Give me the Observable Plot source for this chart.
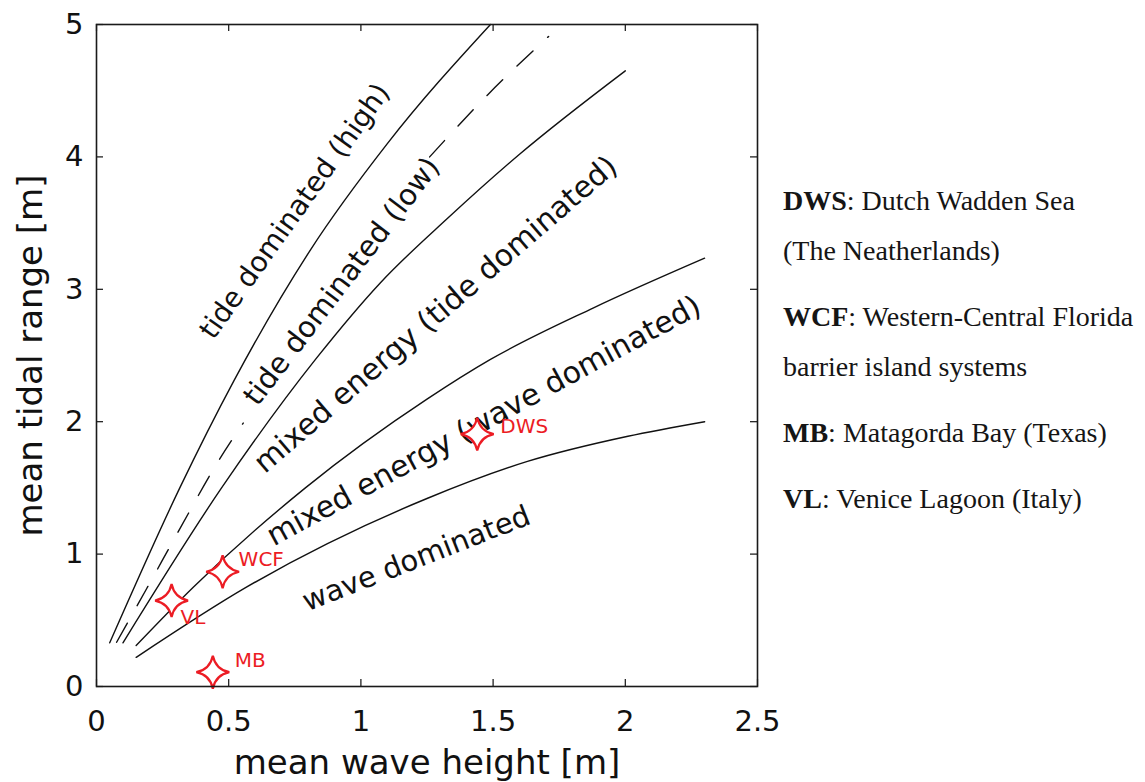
<!DOCTYPE html>
<html>
<head>
<meta charset="utf-8">
<script src="https://cdn.jsdelivr.net/npm/d3@7"></script>
<script src="https://cdn.jsdelivr.net/npm/@observablehq/plot@0.6"></script>
<style>
  html, body { margin: 0; padding: 0; background: #fff; }
  #wrap { position: relative; width: 1145px; height: 782px; overflow: hidden; }
  #wrap svg { position: absolute; left: 0; top: 0; }
  #legend {
    position: absolute; left: 783px; top: 176px;
    font-family: "Liberation Serif", "Times New Roman", serif;
    font-size: 28px; line-height: 50px; color: #151515;
  }
  #legend p { margin: 0 0 16px 0; white-space: nowrap; }
</style>
</head>
<body>
<div id="wrap"><div id="legend"></div></div>
<script>
// Axis ticks
const xTicks = [0, 0.5, 1, 1.5, 2, 2.5];
const yTicks = [0, 1, 2, 3, 4, 5];

// Boundary curves: [mean wave height (m), mean tidal range (m)]
const boundaryTideHigh = [[0.05, 0.33], [0.315, 1.50], [0.52, 2.31], [0.81, 3.30], [1.10, 4.10], [1.49, 5.00]];
// dashed boundary, interrupted where the "tide dominated (low)" label sits
const boundaryTideLowBelow = [[0.076, 0.334], [0.19, 0.74], [0.315, 1.19], [0.454, 1.68], [0.555, 1.99]];
const boundaryTideLowAbove = [[1.26, 4.00], [1.48, 4.47], [1.71, 4.91]];
const boundaryMixedTide = [[0.10, 0.33], [0.473, 1.50], [0.832, 2.48], [1.074, 3.05], [1.33, 3.54], [1.60, 4.02], [2.00, 4.65]];
const boundaryMixedWave = [[0.15, 0.31], [0.366, 0.75], [0.79, 1.50], [1.25, 2.17], [1.49, 2.47], [1.88, 2.86], [2.30, 3.235]];
const boundaryWave = [[0.15, 0.22], [0.567, 0.75], [1.25, 1.42], [1.63, 1.70], [2.01, 1.89], [2.30, 2.00]];

// Study sites
const siteCodes = ["DWS", "WCF", "MB", "VL"];
const siteWaveHeight = [1.44, 0.477, 0.44, 0.284];
const siteTidalRange = [1.906, 0.867, 0.108, 0.649];

// Region names
const regionNames = ["tide dominated (high)", "tide dominated (low)", "mixed energy (tide dominated)", "mixed energy (wave dominated)", "wave dominated"];

// Site key
const legendCodes = ["DWS", "WCF", "MB", "VL"];
const legendNames = [["Dutch Wadden Sea", "(The Neatherlands)"], ["Western-Central Florida", "barrier island systems"], ["Matagorda Bay (Texas)"], ["Venice Lagoon (Italy)"]];

// ---- layout ----
const RED = "#ec1c24";
const INK = "#111";
const W = 1145, H = 782;
const M = {top: 24, right: 388, bottom: 96, left: 96};
const plotW = W - M.left - M.right;
const plotH = H - M.top - M.bottom;
const tickLen = 7;

const regionLabelSpots = [
  {x: 0.75, y: 3.59, angle: -54.5, size: 28},
  {x: 0.928, y: 3.06, angle: -52.7, size: 29},
  {x: 1.283, y: 2.81, angle: -40.7, size: 30},
  {x: 1.465, y: 2.005, angle: -28.6, size: 30},
  {x: 1.21, y: 0.965, angle: -21.4, size: 29}
];
const siteLabelOffsets = {DWS: [23, -8], WCF: [16, -12], MB: [22, -12], VL: [9, 17]};

// four-pointed star with concave sides
const sparkle = {
  draw(context, size) {
    const r = Math.sqrt(size / Math.PI);
    const c = r * 0.17;
    context.moveTo(0, -r);
    context.quadraticCurveTo(c, -c, r, 0);
    context.quadraticCurveTo(c, c, 0, r);
    context.quadraticCurveTo(-c, c, -r, 0);
    context.quadraticCurveTo(-c, -c, 0, -r);
    context.closePath();
  }
};

const sites = siteCodes.map((code, i) => ({code, x: siteWaveHeight[i], y: siteTidalRange[i]}));
const regions = regionNames.map((name, i) => ({name, ...regionLabelSpots[i]}));

const solid = {x: d => d[0], y: d => d[1], stroke: INK, strokeWidth: 1.4, curve: "monotone-x"};
const dashed = {...solid, strokeDasharray: "22,20"};
const fmt = d3.format("~g");

const chart = Plot.plot({
  width: W,
  height: H,
  marginTop: M.top,
  marginRight: M.right,
  marginBottom: M.bottom,
  marginLeft: M.left,
  style: {fontFamily: "'DejaVu Sans', sans-serif", fontSize: "28px", color: INK, background: "transparent"},
  x: {domain: [0, 2.5]},
  y: {domain: [0, 5]},
  marks: [
    // inward ticks on all four sides
    Plot.tickX(xTicks, {x: d => d, insetTop: plotH - tickLen, stroke: INK, strokeWidth: 1.2}),
    Plot.tickX(xTicks, {x: d => d, insetBottom: plotH - tickLen, stroke: INK, strokeWidth: 1.2}),
    Plot.tickY(yTicks, {y: d => d, insetRight: plotW - tickLen, stroke: INK, strokeWidth: 1.2}),
    Plot.tickY(yTicks, {y: d => d, insetLeft: plotW - tickLen, stroke: INK, strokeWidth: 1.2}),
    // tick labels
    Plot.axisX(xTicks, {anchor: "bottom", tickSize: 0, tickPadding: 24, fontSize: 29, label: null, fill: INK, tickFormat: fmt}),
    Plot.axisY(yTicks, {anchor: "left", tickSize: 0, tickPadding: 13, fontSize: 29, label: null, fill: INK, tickFormat: fmt}),
    // axis titles
    Plot.text(["mean wave height [m]"], {text: d => d, frameAnchor: "bottom", dy: 87, textAnchor: "middle", lineAnchor: "bottom", fontSize: 34, fill: INK}),
    Plot.text(["mean tidal range [m]"], {text: d => d, frameAnchor: "left", rotate: -90, dx: -55, textAnchor: "middle", lineAnchor: "bottom", fontSize: 34, fill: INK}),
    // boundaries
    Plot.line(boundaryTideHigh, solid),
    Plot.line(boundaryTideLowBelow, dashed),
    Plot.line(boundaryTideLowAbove, dashed),
    Plot.line(boundaryMixedTide, solid),
    Plot.line(boundaryMixedWave, solid),
    Plot.line(boundaryWave, solid),
    // region names
    ...regions.map(r => Plot.text([r], {x: "x", y: "y", text: "name", rotate: "angle", fontSize: r.size, fill: INK, textAnchor: "middle", lineAnchor: "middle"})),
    // sites
    Plot.dot(sites, {x: "x", y: "y", symbol: sparkle, r: 16.5, stroke: RED, strokeWidth: 2.2, fill: "white"}),
    ...sites.map(s => Plot.text([s], {
      x: "x", y: "y", text: "code",
      dx: siteLabelOffsets[s.code][0], dy: siteLabelOffsets[s.code][1],
      textAnchor: "start", lineAnchor: "middle", fontSize: 20, fill: RED
    })),
    Plot.frame({stroke: "#1a1a1a", strokeWidth: 1.6})
  ]
});

document.getElementById("wrap").prepend(chart);

// site key on the right
const items = d3.select("#legend").selectAll("p").data(legendCodes).join("p");
items.each(function (code, i) {
  const p = d3.select(this);
  p.append("b").text(code);
  p.append("span").text(": " + legendNames[i][0]);
  legendNames[i].slice(1).forEach(line => {
    p.append("br");
    p.append("span").text(line);
  });
});
</script>
</body>
</html>
